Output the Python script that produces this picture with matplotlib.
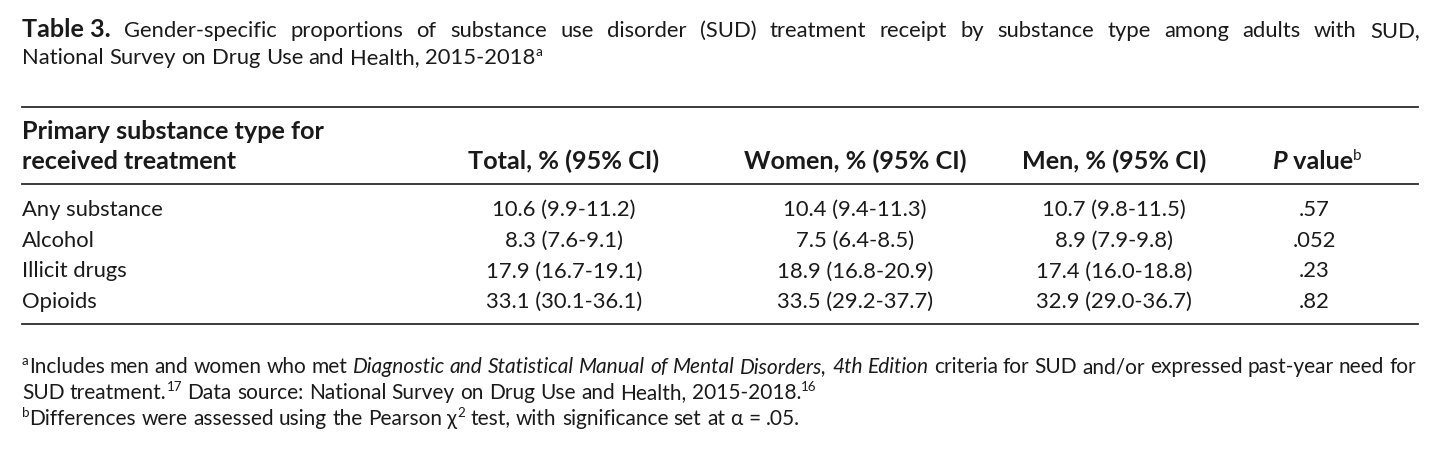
import matplotlib
matplotlib.use("Agg")
import matplotlib.pyplot as plt
from matplotlib.lines import Line2D

W, H = 1441, 453
FONT = ["Lato", "DejaVu Sans"]
INK = "#1a1a1a"

# table content
substances = ["Any substance", "Alcohol", "Illicit drugs", "Opioids"]
total = [10.6, 8.3, 17.9, 33.1]
total_lo = [9.9, 7.6, 16.7, 30.1]
total_hi = [11.2, 9.1, 19.1, 36.1]
women = [10.4, 7.5, 18.9, 33.5]
women_lo = [9.4, 6.4, 16.8, 29.2]
women_hi = [11.3, 8.5, 20.9, 37.7]
men = [10.7, 8.9, 17.4, 32.9]
men_lo = [9.8, 7.9, 16.0, 29.0]
men_hi = [11.5, 9.8, 18.8, 36.7]
p_values = [0.57, 0.052, 0.23, 0.82]
col_headers = ["Total, % (95% CI)", "Women, % (95% CI)", "Men, % (95% CI)"]

fig = plt.figure(figsize=(W / 100, H / 100), dpi=100)
fig.patch.set_facecolor("white")
renderer = fig.canvas.get_renderer()

SIZE = 15.8
BSIZE = 18.2
FSIZE = 15.0


def fx(x):
    return x / W


def fy(y):
    return 1 - y / H


def put(x, y, s, size=SIZE, weight="normal", style="normal", ha="left", dy=0):
    t = fig.text(fx(x), fy(y + dy), s, fontsize=size, fontweight=weight,
                 fontstyle=style, family=FONT, color=INK, ha=ha, va="baseline")
    return t


def width(t):
    return t.get_window_extent(renderer).width


def text_w(s, size):
    t = put(0.5 * W, 0.5 * H, s, size=size)
    w = width(t)
    t.remove()
    return w


def runs(x, y, parts, justify_to=None, size=SIZE):
    # parts: list of (text, opts); words are split on plain spaces for justification
    words = []
    for text, opts in parts:
        pieces = text.split(" ")
        for i, p in enumerate(pieces):
            if i > 0:
                words.append(None)
            if p:
                words.append((p, opts))
    groups, cur = [], []
    for w in words:
        if w is None:
            if cur:
                groups.append(cur)
            cur = []
        else:
            cur.append(w)
    if cur:
        groups.append(cur)
    space = text_w("a a", size) - text_w("aa", size)
    objs = []
    for g in groups:
        gw = []
        for p, opts in g:
            o = dict(size=size)
            o.update(opts)
            t = put(x, y, p, **o)
            gw.append((t, width(t)))
        objs.append(gw)
    total_w = sum(w for g in objs for _, w in g)
    gap = space
    if justify_to is not None and len(objs) > 1:
        gap = (justify_to - x - total_w) / (len(objs) - 1)
    cx = x
    for g in objs:
        for t, w in g:
            t.set_x(fx(cx))
            cx += w
        cx += gap


SUP = dict(size=SIZE * 0.62, dy=-8)
FSUP = dict(size=FSIZE * 0.64, dy=-8)
B = dict(weight="bold", size=BSIZE)
I = dict(style="italic")
N = dict()

# title
runs(22, 37, [("Table\u00a03.", B),
              (" Gender-specific proportions of substance use disorder (SUD) treatment receipt by substance type among adults with SUD,", N)],
     justify_to=1420)
runs(22, 64, [("National Survey on Drug Use and Health, 2015-2018", N), ("a", SUP)])

# rules
for y in [107, 184, 324]:
    fig.add_artist(Line2D([fx(22), fx(1418)], [fy(y), fy(y)], color="#2b2b2b", lw=1.3))

# header
put(22, 139, "Primary substance type for", weight="bold", size=BSIZE)
put(22, 169, "received treatment", weight="bold", size=BSIZE)
col_x = [564, 855, 1114]
for cx, h in zip(col_x, col_headers):
    put(cx, 169, h, weight="bold", size=BSIZE, ha="center")
# P value header
tp = put(1300, 169, "P", weight="bold", style="italic", size=BSIZE)
tv = put(1300, 169, " value", weight="bold", size=BSIZE)
ts = put(1300, 169, "b", size=BSIZE * 0.6, dy=-9)
wsum = width(tp) + width(tv) + width(ts)
sx = 1317 - wsum / 2
tp.set_x(fx(sx)); tv.set_x(fx(sx + width(tp))); ts.set_x(fx(sx + width(tp) + width(tv)))

# rows
row_y0, row_dy = 216, 30.7
for i, name in enumerate(substances):
    y = row_y0 + i * row_dy
    put(22, y, name)
    cells = [f"{total[i]:.1f} ({total_lo[i]:.1f}-{total_hi[i]:.1f})",
             f"{women[i]:.1f} ({women_lo[i]:.1f}-{women_hi[i]:.1f})",
             f"{men[i]:.1f} ({men_lo[i]:.1f}-{men_hi[i]:.1f})"]
    for cx, c in zip(col_x, cells):
        put(cx, y, c, ha="center")
    put(1314, y, str(p_values[i]).lstrip("0"), ha="center")

# footnotes
runs(22, 373, [("a", FSUP), ("Includes men and women who met ", N),
               ("Diagnostic and Statistical Manual of Mental Disorders, 4th Edition", I),
               (" criteria for SUD and/or expressed past-year need for", N)],
     justify_to=1416, size=FSIZE)
runs(22, 399, [("SUD treatment.", N), ("17", FSUP),
               (" Data source: National Survey on Drug Use and Health, 2015-2018.", N), ("16", FSUP)],
     size=FSIZE)
runs(22, 425, [("b", FSUP), ("Differences were assessed using the Pearson ", N), ("χ", N), ("2", FSUP),
               (" test, with significance set at ", N), ("α", N), (" = .05.", N)],
     size=FSIZE)

fig.savefig("out.png", dpi=100, facecolor="white")
